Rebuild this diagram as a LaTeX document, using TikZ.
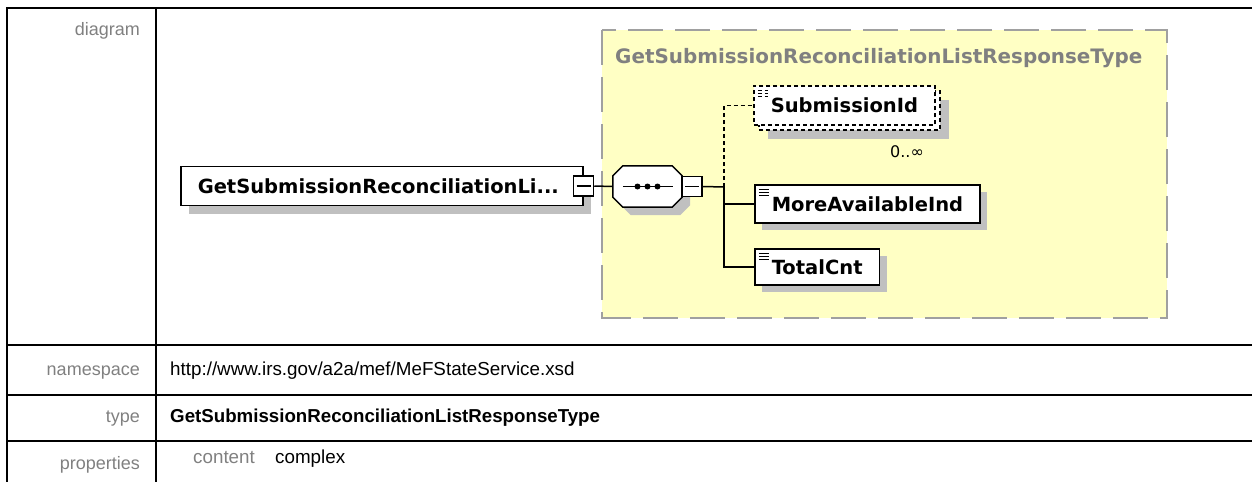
\documentclass[tikz,border=0pt]{standalone}
\usepackage{fontspec}
\setmainfont{Liberation Sans}
\newfontfamily\diafont{DejaVu Sans}
\usetikzlibrary{shadows}
\definecolor{lblgray}{RGB}{128,128,128}
\definecolor{typeyellow}{RGB}{255,255,196}
\definecolor{shadowgray}{RGB}{192,192,192}
\definecolor{framegray}{RGB}{160,160,160}
\begin{document}
\begin{tikzpicture}[x=1pt,y=-1pt,
lbl/.style={anchor=base east,text=lblgray,inner sep=0pt,font=\fontsize{18}{21}\selectfont},
val/.style={anchor=base west,inner sep=0pt,font=\fontsize{18.8}{22}\selectfont},
boxbase/.style={draw,fill=white,line width=1.5pt,anchor=west,minimum height=37pt,inner xsep=17pt,font=\diafont\bfseries\fontsize{19.5}{22}\selectfont},
elembase/.style={boxbase,path picture={\foreach \k in {4,7,10}\draw[line width=1pt]([shift={(4pt,-\k pt)}]path picture bounding box.north west)--++(10pt,0);}},
elem/.style={elembase,general shadow={fill=shadowgray,shadow xshift=7pt,shadow yshift=-7pt}},
minusbox/.style={draw,fill=white,line width=1.5pt,minimum size=20pt,inner sep=0pt,path picture={\draw[line width=1.5pt]([xshift=3pt]path picture bounding box.west)--([xshift=-3pt]path picture bounding box.east);}},
wire/.style={line width=1.5pt},
optwire/.style={line width=1.5pt,dash pattern=on 4pt off 3pt}]
\useasboundingbox(0,0)rectangle(1252,482);
\draw[line width=2pt](1252,8)--(7,8)--(7,482);
\draw[line width=2pt](156,8)--(156,482);
\foreach \y in {345,395,441}{\draw[line width=2pt](7,\y)--(1252,\y);}
\node[lbl](ldiagram)at(140,35){diagram};
\node[lbl](lns)at(140,375){namespace};
\node[lbl](ltype)at(140,422){type};
\node[lbl](lprops)at(140,469){properties};
\node[val](vns)at(170,375){http://www.irs.gov/a2a/mef/MeFStateService.xsd};
\node[val,font=\bfseries\fontsize{18.7}{22}\selectfont](vtype)at(170,422){GetSubmissionReconciliationListResponseType};
\node[val,text=lblgray](lcontent)at(193,463){content};
\node[val](vcontent)at(275,463){complex};
\draw[fill=typeyellow,draw=framegray,line width=2pt,dash pattern=on 35pt off 12pt](602,30)rectangle(1167,318);
\node[anchor=base west,inner sep=0pt,text=lblgray,font=\diafont\bfseries\fontsize{19.9}{22}\selectfont](ctype)at(615,63){GetSubmissionReconciliationListResponseType};
\node[boxbase,minimum height=39pt,text width=368pt,align=left,general shadow={fill=shadowgray,shadow xshift=8pt,shadow yshift=-8pt}](root)at(180,186){GetSubmissionReconciliationLi...};
\node[minusbox](rootminus)at(root.east){};
\node[minimum width=69pt,minimum height=41pt,inner sep=0pt](seq)at(647.5,186.5){};
\fill[shadowgray,transform canvas={shift={(8pt,-8pt)}}]([xshift=10pt]seq.north west)--([xshift=-10pt]seq.north east)--([yshift=-10pt]seq.north east)--([yshift=10pt]seq.south east)--([xshift=-10pt]seq.south east)--([xshift=10pt]seq.south west)--([yshift=10pt]seq.south west)--([yshift=-10pt]seq.north west)--cycle;
\draw[wire,fill=white]([xshift=10pt]seq.north west)--([xshift=-10pt]seq.north east)--([yshift=-10pt]seq.north east)--([yshift=10pt]seq.south east)--([xshift=-10pt]seq.south east)--([xshift=10pt]seq.south west)--([yshift=10pt]seq.south west)--([yshift=-10pt]seq.north west)--cycle;
\draw[wire]([xshift=10pt]seq.west)--([xshift=-9pt]seq.east);
\foreach \d in {-10,0,10}{\fill([xshift=\d pt]seq.center)circle(3pt);}
\node[minusbox](seqminus)at([xshift=10pt]seq.east){};
\coordinate(bus)at(724,187);
\node[elembase,dash pattern=on 4pt off 3pt,minimum height=39pt,general shadow={fill=shadowgray,shadow xshift=14pt,shadow yshift=-14pt},general shadow={draw,fill=white,line width=1.5pt,dash pattern=on 4pt off 3pt,shadow xshift=5pt,shadow yshift=-5pt}](submid)at(753,105.5){SubmissionId};
\node[inner sep=0pt,font=\diafont\fontsize{16}{18}\selectfont](submocc)at(907,152){0..∞};
\node[elem,minimum height=38pt](moreavail)at(754,204){MoreAvailableInd};
\node[elem,minimum height=36pt](totalcnt)at(754,267){TotalCnt};
\draw[wire](rootminus.east)--(seq.west);
\draw[wire](seqminus.east)--(bus);
\draw[optwire](bus)|-(submid.west);
\draw[wire](bus)|-(moreavail.west);
\draw[wire](bus)|-(totalcnt.west);
\end{tikzpicture}
\end{document}
